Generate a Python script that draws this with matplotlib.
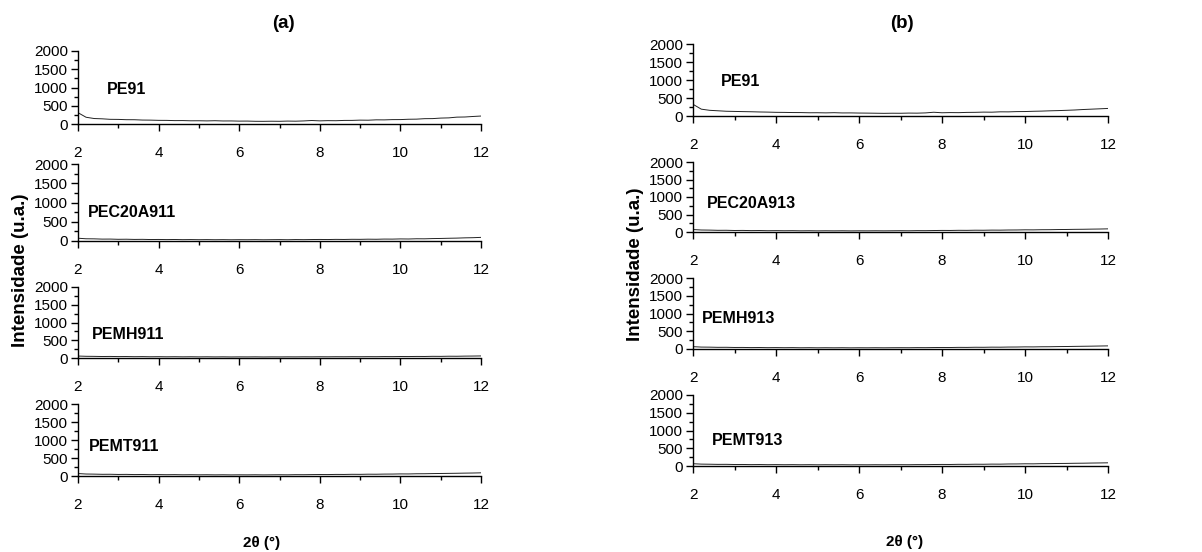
import matplotlib.pyplot as plt
import numpy as np

plt.rcParams['font.family'] = ['Liberation Sans', 'DejaVu Sans']
plt.rcParams['font.size'] = 10

# Dados (2θ de 2 a 12, passo 0.2)
two_theta = [2.0, 2.2, 2.4, 2.6, 2.8, 3.0, 3.2, 3.4, 3.6, 3.8,
             4.0, 4.2, 4.4, 4.6, 4.8, 5.0, 5.2, 5.4, 5.6, 5.8,
             6.0, 6.2, 6.4, 6.6, 6.8, 7.0, 7.2, 7.4, 7.6, 7.8,
             8.0, 8.2, 8.4, 8.6, 8.8, 9.0, 9.2, 9.4, 9.6, 9.8,
             10.0, 10.2, 10.4, 10.6, 10.8, 11.0, 11.2, 11.4, 11.6, 11.8,
             12.0]

pe91_a = [310, 185, 150, 142, 128, 126, 118, 117, 108, 106,
          100, 99, 93, 94, 88, 89, 85, 90, 83, 84,
          79, 80, 74, 73, 76, 74, 80, 77, 84, 96,
          86, 92, 90, 98, 99, 106, 104, 114, 113, 120,
          121, 130, 133, 146, 148, 162, 168, 188, 192, 206,
          218]
pec20a911 = [72, 58, 56, 49, 50, 44, 46, 41, 43, 38,
             40, 37, 39, 35, 37, 34, 36, 33, 35, 32,
             34, 33, 35, 32, 34, 36, 33, 37, 35, 38,
             40, 38, 42, 40, 44, 43, 47, 45, 50, 49,
             54, 52, 58, 57, 63, 66, 71, 75, 82, 86,
             94]
pemh911 = [55, 48, 46, 42, 44, 40, 41, 37, 39, 35,
           37, 34, 36, 33, 35, 32, 34, 31, 33, 30,
           32, 31, 33, 30, 32, 31, 33, 32, 34, 33,
           35, 34, 36, 35, 37, 36, 38, 37, 40, 39,
           42, 41, 44, 43, 47, 46, 50, 49, 53, 55,
           58]
pemt911 = [68, 55, 52, 47, 48, 43, 45, 40, 42, 37,
           39, 36, 38, 34, 36, 33, 35, 32, 34, 31,
           33, 32, 34, 31, 33, 35, 33, 37, 36, 39,
           41, 40, 44, 43, 47, 46, 50, 49, 53, 54,
           58, 57, 62, 63, 67, 70, 73, 76, 80, 83,
           88]

pe91_b = [325, 190, 158, 145, 132, 127, 122, 118, 112, 108,
          102, 100, 96, 95, 90, 91, 87, 92, 85, 86,
          82, 80, 77, 74, 77, 76, 81, 79, 86, 104,
          90, 95, 93, 100, 102, 108, 106, 116, 115, 122,
          124, 131, 136, 144, 150, 158, 167, 180, 190, 200,
          210]
pec20a913 = [70, 57, 54, 48, 49, 43, 45, 40, 42, 37,
             39, 36, 38, 34, 36, 33, 35, 33, 35, 32,
             34, 33, 35, 33, 35, 37, 35, 39, 38, 42,
             45, 44, 48, 47, 51, 50, 54, 53, 57, 58,
             62, 61, 65, 66, 70, 72, 76, 78, 82, 85,
             90]
pemh913 = [66, 54, 52, 47, 48, 43, 44, 40, 42, 38,
           40, 37, 39, 35, 37, 34, 36, 34, 36, 33,
           35, 34, 36, 34, 36, 37, 36, 39, 38, 41,
           43, 42, 46, 45, 49, 48, 52, 51, 55, 56,
           60, 59, 63, 64, 68, 70, 74, 77, 80, 84,
           88]
pemt913 = [64, 53, 50, 46, 47, 42, 43, 39, 41, 37,
           39, 36, 38, 35, 37, 34, 36, 34, 36, 33,
           35, 34, 36, 34, 36, 37, 36, 39, 38, 42,
           44, 43, 47, 46, 50, 49, 53, 52, 57, 58,
           62, 61, 66, 67, 71, 73, 77, 79, 83, 86,
           90]

labels_a = ['PE91', 'PEC20A911', 'PEMH911', 'PEMT911']
labels_b = ['PE91', 'PEC20A913', 'PEMH913', 'PEMT913']
series_a = [pe91_a, pec20a911, pemh911, pemt911]
series_b = [pe91_b, pec20a913, pemh913, pemt913]

W, H = 1202, 552
fig = plt.figure(figsize=(W / 100, H / 100), dpi=100)

# posições em pixels (topo, base) de cada subgráfico
rows_a = [(51, 124), (164, 241), (287, 358), (404, 476)]
rows_b = [(44, 116), (162, 232), (278, 349), (395, 466)]
left_a, right_a = 78, 481
left_b, right_b = 693, 1108
label_pos_a = [(2.72, 950), (2.25, 730), (2.35, 650), (2.27, 830)]
label_pos_b = [(2.67, 970), (2.34, 800), (2.22, 870), (2.46, 730)]


def make_panel(rows, left, right, series, labels, label_pos):
    for (top, bot), y, lab, (lx, ly) in zip(rows, series, labels, label_pos):
        ax = fig.add_axes([left / W, 1 - bot / H, (right - left) / W, (bot - top) / H])
        ax.plot(two_theta, y, color='#222222', lw=0.7)
        ax.set_xlim(2, 12)
        ax.set_ylim(0, 2000)
        ax.set_xticks([2, 4, 6, 8, 10, 12])
        ax.set_xticks([3, 5, 7, 9, 11], minor=True)
        ax.set_yticks([0, 500, 1000, 1500, 2000])
        ax.set_yticks(np.arange(250, 2000, 500), minor=True)
        for s in ['top', 'right']:
            ax.spines[s].set_visible(False)
        for s in ['left', 'bottom']:
            ax.spines[s].set_linewidth(1.0)
        ax.tick_params(axis='both', which='major', direction='out', length=5, width=1.0)
        ax.tick_params(axis='both', which='minor', direction='out', length=3, width=1.0)
        ax.tick_params(axis='x', which='major', pad=11, labelsize=11)
        ax.tick_params(axis='y', which='major', pad=2, labelsize=11)
        ax.text(lx, ly, lab, fontsize=11.5, fontweight='bold', ha='left', va='center')


make_panel(rows_a, left_a, right_a, series_a, labels_a, label_pos_a)
make_panel(rows_b, left_b, right_b, series_b, labels_b, label_pos_b)

fig.text(283 / W, 1 - 23 / H, '(a)', fontsize=13.5, fontweight='bold', ha='center', va='center')
fig.text(902 / W, 1 - 23 / H, '(b)', fontsize=13.5, fontweight='bold', ha='center', va='center')
fig.text(21 / W, 1 - 270 / H, 'Intensidade (u.a.)', fontsize=13.5, fontweight='bold',
         rotation=90, ha='center', va='center')
fig.text(635 / W, 1 - 264 / H, 'Intensidade (u.a.)', fontsize=13.5, fontweight='bold',
         rotation=90, ha='center', va='center')
fig.text(262 / W, 1 - 543 / H, '2θ (°)', fontsize=11, fontweight='bold', ha='center', va='center')
fig.text(905 / W, 1 - 542 / H, '2θ (°)', fontsize=11, fontweight='bold', ha='center', va='center')

fig.savefig('out.png', dpi=100)
